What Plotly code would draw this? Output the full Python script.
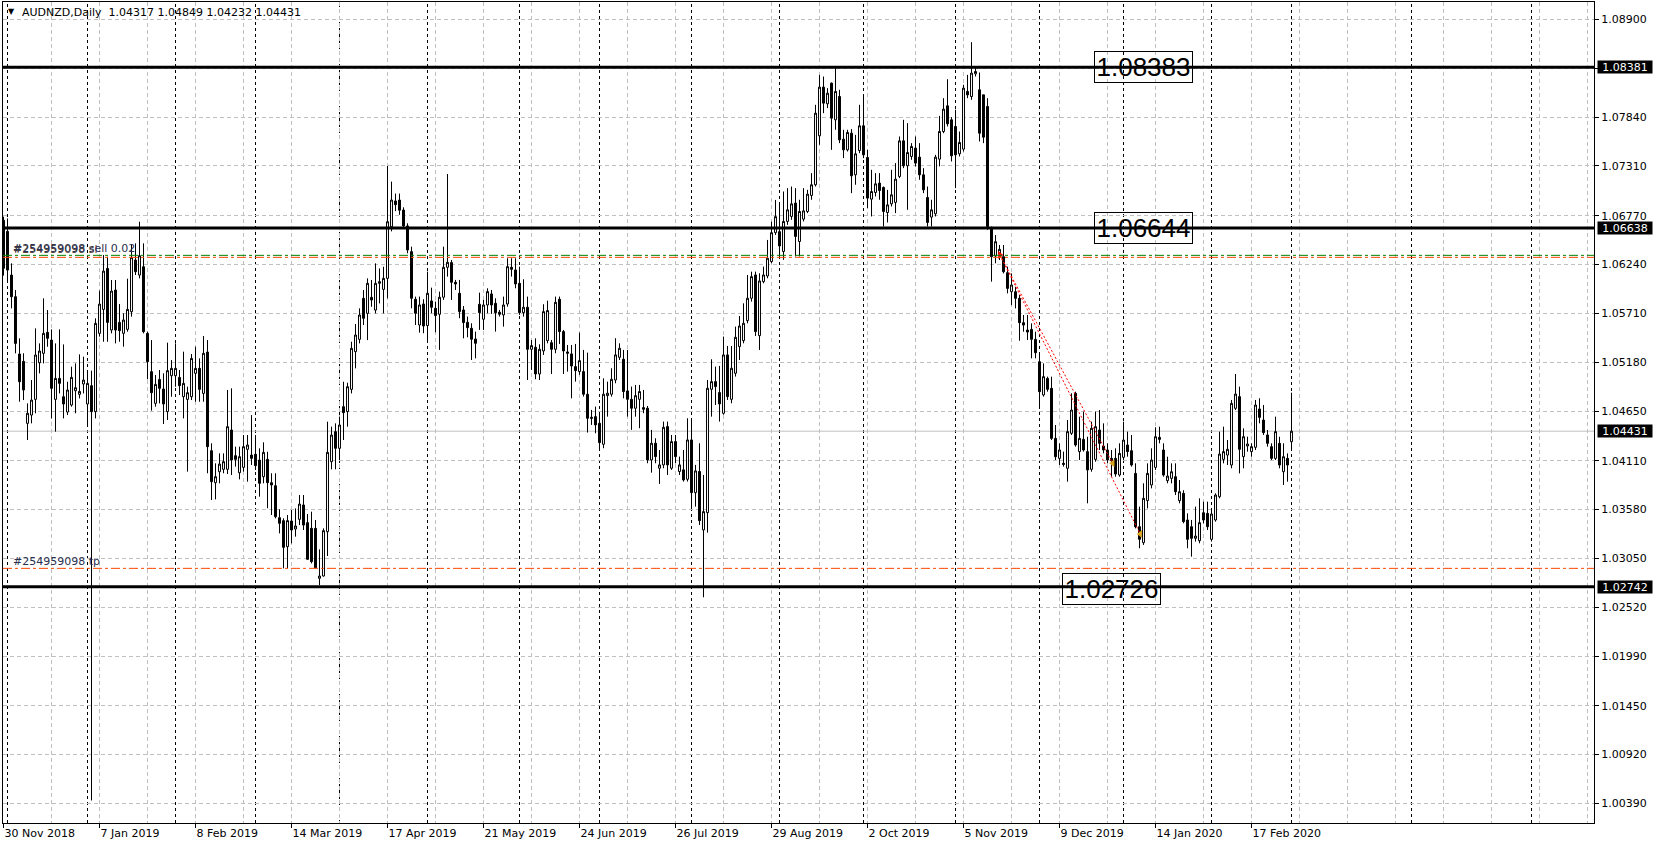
import plotly.graph_objects as go
import pandas as pd

# ---------------- data ----------------
header_symbol = "AUDNZD,Daily"
header_values = ["1.04317", "1.04849", "1.04232", "1.04431"]

first_day = "2018-11-30"
last_day = "2020-03-02"
market_holidays = ["2018-12-25", "2019-01-01", "2019-12-25", "2020-01-01"]

opens = [1.06720,1.06600,1.06126,1.05891,1.05269,1.05189,1.04516,1.04606,1.04776,1.05174,
1.05276,1.05504,1.05420,1.04776,1.05004,1.04805,1.04639,1.04715,1.04870,1.04831,
1.04943,1.04726,1.04925,1.04643,1.05493,1.05753,1.06198,1.05529,1.05963,1.05612,
1.05493,1.05536,1.05728,1.06289,1.06126,1.06216,1.05493,1.05077,1.04733,1.04993,
1.04889,1.04643,1.05033,1.05033,1.05015,1.04805,1.04776,1.04805,1.05059,1.05113,
1.04841,1.05290,1.04219,1.03872,1.03991,1.04017,1.04017,1.04444,1.04165,1.03980,
1.04038,1.04234,1.04172,1.04180,1.04118,1.03937,1.04125,1.03872,1.03839,1.03492,
1.03460,1.03177,1.03456,1.03369,1.03474,1.03630,1.03438,1.03376,1.03376,1.02834,
1.02859,1.03340,1.04100,1.04426,1.04245,1.04697,1.04643,1.04885,1.05294,1.05428,
1.05873,1.05710,1.05884,1.05746,1.06036,1.05970,1.06090,1.06650,1.06930,1.06940,
1.06832,1.06659,1.06380,1.05863,1.05584,1.05812,1.05577,1.05845,1.05765,1.05700,
1.05885,1.06210,1.06261,1.06047,1.05928,1.05747,1.05613,1.05548,1.05432,1.05809,
1.05646,1.05801,1.05921,1.05819,1.05722,1.05693,1.05812,1.06210,1.06181,1.06036,
1.05718,1.05776,1.05320,1.05342,1.05052,1.05302,1.05414,1.05392,1.05320,1.05863,
1.05512,1.05291,1.05270,1.05132,1.05078,1.05078,1.04832,1.04582,1.04589,1.04517,
1.04289,1.04817,1.04832,1.04987,1.05233,1.05212,1.04868,1.04777,1.04680,1.04777,
1.04687,1.04680,1.04119,1.04300,1.04029,1.04065,1.04481,1.04029,1.04318,1.03993,
1.04011,1.03909,1.04336,1.03764,1.03993,1.03359,1.03547,1.04886,1.04969,1.04850,
1.04625,1.05259,1.04777,1.05060,1.05349,1.05414,1.05631,1.05874,1.06127,1.05468,
1.06054,1.06116,1.06272,1.06586,1.06597,1.06382,1.06708,1.06762,1.06907,1.06490,
1.06733,1.06816,1.06990,1.07106,1.07637,1.08166,1.07985,1.08209,1.07811,1.08064,
1.07601,1.07485,1.07666,1.07214,1.07478,1.07746,1.07402,1.06950,1.07022,1.07124,
1.07077,1.06805,1.06899,1.06914,1.07196,1.07583,1.07312,1.07413,1.07504,1.07406,
1.07214,1.06968,1.06755,1.06791,1.07384,1.07684,1.07963,1.07811,1.07739,1.07442,
1.07493,1.08119,1.08064,1.08310,1.08137,1.08082,1.07956,1.06635,1.06332,1.06354,
1.06325,1.06151,1.05945,1.05945,1.05873,1.05609,1.05529,1.05536,1.05428,1.05185,
1.04824,1.05004,1.04896,1.04353,1.04136,1.04082,1.04028,1.04408,1.04842,1.04209,
1.04342,1.04209,1.04017,1.04125,1.04444,1.04270,1.04227,1.04136,1.04136,1.03955,
1.04147,1.04281,1.04219,1.03973,1.03394,1.03221,1.03677,1.03847,1.04038,1.04364,
1.04227,1.03894,1.03919,1.03937,1.03677,1.03756,1.03467,1.03394,1.03268,1.03242,
1.03546,1.03539,1.03257,1.03467,1.03720,1.04125,1.04172,1.04064,1.04679,1.04806,
1.04154,1.04270,1.04209,1.04256,1.04672,1.04552,1.04390,1.04263,1.04136,1.04299,
1.03991,1.04136,1.04317]

highs = [1.06760,1.06740,1.06253,1.05963,1.05439,1.05276,1.04733,1.04986,1.05547,1.05384,
1.05873,1.05746,1.05536,1.05384,1.05536,1.05373,1.04968,1.05131,1.05167,1.05265,
1.05240,1.05077,1.05088,1.05656,1.05956,1.06343,1.06325,1.06072,1.06072,1.05811,
1.05710,1.06086,1.06462,1.06470,1.06705,1.06470,1.05511,1.05420,1.05041,1.05095,
1.05059,1.05392,1.05203,1.05384,1.05095,1.05294,1.04914,1.05269,1.05348,1.05221,
1.05464,1.05420,1.04299,1.04082,1.04190,1.04190,1.04878,1.04896,1.04263,1.04263,
1.04389,1.04389,1.04606,1.04389,1.04245,1.04310,1.04208,1.03974,1.03974,1.03583,
1.03485,1.03521,1.03575,1.03593,1.03738,1.03738,1.03532,1.03557,1.03467,1.03148,
1.03376,1.04534,1.04480,1.04516,1.04588,1.04968,1.04957,1.05402,1.05594,1.05764,
1.05963,1.06090,1.06072,1.06253,1.06198,1.06216,1.07310,1.07140,1.07010,1.07010,
1.06861,1.06688,1.06434,1.05892,1.05892,1.05863,1.06163,1.05989,1.05838,1.05946,
1.06434,1.07223,1.06290,1.06073,1.06073,1.05790,1.05675,1.05602,1.05512,1.05935,
1.05856,1.05982,1.05964,1.05874,1.05747,1.05892,1.06308,1.06308,1.06308,1.06217,
1.06080,1.05892,1.05421,1.05439,1.05374,1.05809,1.05848,1.05421,1.05892,1.05892,
1.05530,1.05367,1.05367,1.05378,1.05501,1.05313,1.05284,1.04662,1.04698,1.04607,
1.05005,1.04969,1.05114,1.05440,1.05385,1.05313,1.05313,1.04915,1.04933,1.04933,
1.04879,1.04705,1.04445,1.04354,1.04227,1.04535,1.04535,1.04390,1.04390,1.04155,
1.04227,1.04571,1.04553,1.04065,1.04300,1.03956,1.04987,1.05212,1.05132,1.05139,
1.05458,1.05356,1.05356,1.05566,1.05682,1.05819,1.06127,1.06163,1.06163,1.06145,
1.06217,1.06507,1.06706,1.06941,1.06905,1.07033,1.07069,1.07087,1.07069,1.06943,
1.07069,1.07051,1.07232,1.07974,1.08299,1.08281,1.08155,1.08216,1.08372,1.08137,
1.07703,1.07703,1.07710,1.07648,1.07974,1.08064,1.07485,1.07268,1.07232,1.07232,
1.07087,1.07051,1.07268,1.07341,1.07630,1.07811,1.07775,1.07558,1.07630,1.07558,
1.07286,1.07087,1.06943,1.07431,1.07854,1.08046,1.08252,1.07840,1.07920,1.07684,
1.08191,1.08299,1.08654,1.08383,1.08325,1.08082,1.08046,1.06653,1.06560,1.06452,
1.06452,1.06217,1.06144,1.05999,1.05909,1.05692,1.05692,1.05601,1.05511,1.05258,
1.05167,1.05023,1.05023,1.04498,1.04299,1.04209,1.04552,1.04842,1.04860,1.04588,
1.04643,1.04371,1.04534,1.04643,1.04661,1.04516,1.04299,1.04227,1.04245,1.04299,
1.04534,1.04426,1.04390,1.04082,1.03612,1.03865,1.04082,1.04245,1.04473,1.04480,
1.04299,1.04154,1.04082,1.04082,1.03901,1.03790,1.03539,1.03467,1.03612,1.03702,
1.03666,1.03666,1.03575,1.03756,1.04426,1.04480,1.04335,1.04770,1.05052,1.04914,
1.04462,1.04371,1.04299,1.04770,1.04788,1.04715,1.04444,1.04299,1.04589,1.04371,
1.04299,1.04190,1.04849]

lows = [1.06120,1.06040,1.05764,1.05276,1.04751,1.04769,1.04335,1.04516,1.04625,1.05059,
1.05167,1.05348,1.04570,1.04426,1.04841,1.04570,1.04606,1.04697,1.04625,1.04787,
1.04841,1.04498,1.00422,1.04570,1.05457,1.05402,1.05402,1.05493,1.05384,1.05402,
1.05348,1.05511,1.05674,1.06126,1.06090,1.05493,1.04995,1.04654,1.04697,1.04733,
1.04509,1.04552,1.04805,1.04914,1.04823,1.04570,1.03992,1.04769,1.04751,1.04751,
1.04751,1.03974,1.03684,1.03691,1.03865,1.03974,1.03966,1.03955,1.04046,1.03908,
1.03992,1.03883,1.04064,1.04010,1.03720,1.03865,1.03594,1.03521,1.03485,1.03322,
1.02942,1.02942,1.03213,1.03286,1.03412,1.03358,1.03033,1.02996,1.02942,1.02761,
1.02852,1.03076,1.04017,1.04017,1.04118,1.04335,1.04480,1.04841,1.05113,1.05384,
1.05583,1.05420,1.05782,1.05710,1.05818,1.05710,1.05873,1.06600,1.06820,1.06780,
1.06633,1.06362,1.05765,1.05584,1.05501,1.05494,1.05414,1.05711,1.05505,1.05313,
1.05856,1.06109,1.05856,1.05964,1.05657,1.05439,1.05450,1.05204,1.05222,1.05530,
1.05530,1.05711,1.05704,1.05512,1.05675,1.05566,1.05783,1.06109,1.05982,1.05693,
1.05675,1.04987,1.05096,1.04995,1.04987,1.05259,1.05385,1.05052,1.05277,1.05378,
1.05052,1.05078,1.04788,1.04969,1.05042,1.04806,1.04416,1.04499,1.04408,1.04246,
1.04246,1.04589,1.04806,1.04951,1.05204,1.04788,1.04589,1.04445,1.04589,1.04463,
1.04626,1.04083,1.03981,1.04083,1.03859,1.04029,1.03956,1.04011,1.04083,1.03956,
1.03884,1.03884,1.03594,1.03612,1.03413,1.02628,1.03330,1.04589,1.04716,1.04535,
1.04610,1.04770,1.04734,1.05024,1.05204,1.05385,1.05602,1.05838,1.05465,1.05313,
1.06036,1.06091,1.06254,1.06561,1.06326,1.06291,1.06671,1.06726,1.06328,1.06328,
1.06708,1.06798,1.06943,1.07087,1.07540,1.07883,1.07938,1.07485,1.07703,1.07558,
1.07395,1.07467,1.07015,1.07106,1.07449,1.07395,1.06852,1.06762,1.06979,1.06943,
1.06653,1.06697,1.06870,1.06798,1.07178,1.07286,1.06834,1.07377,1.07305,1.07160,
1.07015,1.06653,1.06653,1.06762,1.07305,1.07666,1.07739,1.07359,1.07069,1.07413,
1.07467,1.08046,1.08028,1.08281,1.07576,1.07558,1.06617,1.06054,1.06253,1.06289,
1.06144,1.05927,1.05800,1.05764,1.05413,1.05511,1.05421,1.05222,1.05222,1.04697,
1.04806,1.04860,1.04335,1.04118,1.04064,1.04046,1.03883,1.04390,1.04263,1.04118,
1.04209,1.03648,1.03991,1.04100,1.04227,1.04190,1.04082,1.03937,1.03937,1.03937,
1.04118,1.04154,1.04046,1.03376,1.03160,1.03196,1.03593,1.03810,1.04010,1.04299,
1.03937,1.03865,1.03865,1.03738,1.03648,1.03431,1.03160,1.03069,1.03232,1.03214,
1.03431,1.03358,1.03232,1.03449,1.03702,1.04082,1.04064,1.04028,1.04661,1.03973,
1.04028,1.04209,1.04154,1.04227,1.04516,1.04390,1.04263,1.04118,1.04118,1.04028,
1.03847,1.03883,1.04232]

closes = [1.06200,1.06180,1.05891,1.05384,1.04968,1.04878,1.04625,1.04769,1.05258,1.05301,
1.05493,1.05439,1.04896,1.05004,1.04950,1.04726,1.04878,1.05015,1.04903,1.04863,
1.04986,1.04950,1.04643,1.05601,1.05811,1.06169,1.05612,1.05952,1.05529,1.05522,
1.05638,1.05753,1.06318,1.06162,1.06336,1.05511,1.05185,1.04849,1.04939,1.04896,
1.04726,1.05088,1.05113,1.05113,1.04925,1.04950,1.04849,1.05221,1.05113,1.04885,
1.05276,1.04263,1.03883,1.03937,1.04074,1.04100,1.04480,1.04118,1.04125,1.04154,
1.04263,1.04281,1.04136,1.04057,1.03865,1.04201,1.03872,1.03847,1.03503,1.03431,
1.03170,1.03460,1.03358,1.03402,1.03640,1.03412,1.03040,1.03015,1.02949,1.02859,
1.03351,1.04201,1.04389,1.04245,1.04498,1.04632,1.04914,1.05330,1.05475,1.05692,
1.05656,1.06036,1.05855,1.06036,1.06054,1.06090,1.06705,1.06940,1.06890,1.06830,
1.06659,1.06398,1.05874,1.05711,1.05801,1.05573,1.05928,1.05776,1.05686,1.05885,
1.06210,1.06264,1.06047,1.06029,1.05729,1.05610,1.05555,1.05429,1.05385,1.05718,
1.05801,1.05946,1.05801,1.05718,1.05700,1.05801,1.06217,1.06188,1.06029,1.05718,
1.05776,1.05320,1.05360,1.05052,1.05320,1.05729,1.05740,1.05320,1.05830,1.05512,
1.05302,1.05277,1.05139,1.05089,1.05197,1.04832,1.04571,1.04571,1.04499,1.04307,
1.04832,1.04843,1.04994,1.05259,1.05331,1.04861,1.04777,1.04680,1.04817,1.04861,
1.04669,1.04119,1.04300,1.04155,1.04065,1.04473,1.04065,1.04318,1.04155,1.04065,
1.03902,1.04336,1.03764,1.04000,1.03460,1.03558,1.04897,1.04969,1.04915,1.04727,
1.05259,1.04806,1.05114,1.05450,1.05573,1.05602,1.05874,1.06109,1.05512,1.06062,
1.06127,1.06308,1.06586,1.06760,1.06442,1.06708,1.06834,1.06899,1.06545,1.06816,
1.06823,1.07004,1.07106,1.07883,1.08166,1.07992,1.08100,1.07829,1.08119,1.07594,
1.07485,1.07674,1.07203,1.07442,1.07746,1.07431,1.06961,1.07033,1.07116,1.07044,
1.06816,1.06888,1.06997,1.07167,1.07583,1.07312,1.07456,1.07522,1.07341,1.07214,
1.07051,1.06697,1.06834,1.07406,1.07684,1.07927,1.07768,1.07420,1.07431,1.07565,
1.08155,1.08082,1.08318,1.08336,1.07666,1.07623,1.06653,1.06325,1.06488,1.06405,
1.06162,1.05981,1.06018,1.05873,1.05609,1.05583,1.05507,1.05428,1.05283,1.04860,
1.05023,1.04885,1.04353,1.04154,1.04227,1.04071,1.04426,1.04661,1.04281,1.04353,
1.04227,1.04010,1.04462,1.04480,1.04299,1.04227,1.04118,1.04111,1.03966,1.04190,
1.04335,1.04209,1.04064,1.03394,1.03257,1.03702,1.03973,1.04118,1.04371,1.04342,
1.03955,1.03944,1.03991,1.03774,1.03774,1.03449,1.03257,1.03268,1.03293,1.03438,
1.03467,1.03394,1.03532,1.03738,1.04183,1.04209,1.04234,1.04733,1.04834,1.04234,
1.04371,1.04292,1.04263,1.04715,1.04581,1.04415,1.04299,1.04136,1.04426,1.04064,
1.04154,1.04064,1.04431]

x_tick_labels = ["30 Nov 2018", "7 Jan 2019", "8 Feb 2019", "14 Mar 2019", "17 Apr 2019",
                 "21 May 2019", "24 Jun 2019", "26 Jul 2019", "29 Aug 2019", "2 Oct 2019",
                 "5 Nov 2019", "9 Dec 2019", "14 Jan 2020", "17 Feb 2020"]
y_tick_values = [1.0890, 1.0837, 1.0784, 1.0731, 1.0677, 1.0624, 1.0571, 1.0518, 1.0465,
                 1.0411, 1.0358, 1.0305, 1.0252, 1.0199, 1.0145, 1.0092, 1.0039]
y_tick_labels = ["1.08900", "", "1.07840", "1.07310", "1.06770", "1.06240", "1.05710",
                 "1.05180", "1.04650", "1.04110", "1.03580", "1.03050", "1.02520",
                 "1.01990", "1.01450", "1.00920", "1.00390"]

level_prices = [1.08381, 1.06638, 1.02742]
level_axis_texts = ["1.08381", "1.06638", "1.02742"]
level_box_texts = ["1.08383", "1.06644", "1.02726"]
bid_price = 1.04431
bid_text = "1.04431"

order_ticket = "#254959098"
order_open_price = 1.06340
order_sl_price = 1.06318
order_tp_price = 1.02942
trade_open_bar = 249.1
trade_open_price = 1.06343
trade_close_bars = [277.3, 284.2]
trade_close_prices = [1.04082, 1.03315]

# ---------------- geometry / style ----------------
W, H = 1658, 846
ML, MR, MT, MB = 3, 64, 2, 23
PW, PH = W - ML - MR, H - MT - MB
BAR_PX = 4.0
REF_PRICE, REF_PY, PX_PER_UNIT = 1.089, 19.5, 9212.0
X0 = -0.125
X1 = X0 + PW / BAR_PX
Y1 = REF_PRICE + (REF_PY - MT) / PX_PER_UNIT
Y0 = REF_PRICE - (H - MB - REF_PY) / PX_PER_UNIT

def paper_x(px):
    return (px - ML) / PW

def paper_y(py):
    return 1 - (py - MT) / PH

FONT = "DejaVu Sans"
GRID = "#c0c0c0"

# dates / positions
hol = set(pd.to_datetime(market_holidays))
dates = [d for d in pd.bdate_range(first_day, last_day) if d not in hol]
n = min(len(dates), len(opens))
bars = list(range(n))
highs_c = [max(h, o, c) for h, o, c in zip(highs, opens, closes)]
lows_c = [min(l, o, c) for l, o, c in zip(lows, opens, closes)]

date_index = {d: i for i, d in enumerate(dates)}
tick_pos = [date_index[pd.to_datetime(t, format="%d %b %Y")] for t in x_tick_labels]
minor_pos = [k for k in range(0, int(X1) + 1, 12) if k not in tick_pos]

# month separators (future bars advance by calendar day, as on the terminal)
sep_pos = [i for i in range(1, len(dates)) if dates[i].month != dates[i - 1].month]
m = (dates[-1] + pd.offsets.MonthBegin(1))
while True:
    pos = (len(dates) - 1) + (m - dates[-1]).days
    if pos > X1:
        break
    sep_pos.append(pos)
    m = m + pd.offsets.MonthBegin(1)

fig = go.Figure()

fig.add_trace(go.Candlestick(
    x=bars, open=opens[:n], high=highs_c[:n], low=lows_c[:n], close=closes[:n],
    increasing=dict(line=dict(color="black", width=1), fillcolor="white"),
    decreasing=dict(line=dict(color="black", width=1), fillcolor="black"),
    whiskerwidth=0, showlegend=False, hoverinfo="skip"))

# closed trade lines
for cb, cp in zip(trade_close_bars, trade_close_prices):
    fig.add_trace(go.Scatter(x=[trade_open_bar, cb], y=[trade_open_price, cp], mode="lines",
                             line=dict(color="red", width=1, dash="2px,2px"),
                             showlegend=False, hoverinfo="skip"))
fig.add_trace(go.Scatter(x=trade_close_bars, y=trade_close_prices, mode="markers",
                         marker=dict(symbol="triangle-left", size=7, color="#DAA520"),
                         showlegend=False, hoverinfo="skip"))
fig.add_trace(go.Scatter(x=[trade_open_bar], y=[trade_open_price], mode="markers",
                         marker=dict(symbol="triangle-right", size=7, color="red"),
                         showlegend=False, hoverinfo="skip"))

shapes = []
for s in sep_pos:
    shapes.append(dict(type="line", xref="x", yref="paper", x0=s, x1=s, y0=0, y1=1,
                       line=dict(color="black", width=1, dash="3px,3px"), layer="below"))
shapes.append(dict(type="line", xref="paper", yref="y", x0=0, x1=1, y0=bid_price, y1=bid_price,
                   line=dict(color=GRID, width=1), layer="below"))
for lp in level_prices:
    shapes.append(dict(type="line", xref="paper", yref="y", x0=0, x1=1, y0=lp, y1=lp,
                       line=dict(color="black", width=3), layer="above"))
shapes.append(dict(type="line", xref="paper", yref="y", x0=0, x1=1, y0=order_open_price,
                   y1=order_open_price, line=dict(color="#008000", width=1, dash="dashdot"),
                   layer="above"))
for sp in [order_sl_price, order_tp_price]:
    shapes.append(dict(type="line", xref="paper", yref="y", x0=0, x1=1, y0=sp, y1=sp,
                       line=dict(color="#FF4500", width=1, dash="dashdot"), layer="above"))

ann = []
ann.append(dict(xref="paper", yref="paper", x=paper_x(11), y=paper_y(12), text="▼",
                showarrow=False, font=dict(family=FONT, size=8, color="black"),
                xanchor="center", yanchor="middle"))
ann.append(dict(xref="paper", yref="paper", x=paper_x(20), y=paper_y(12.5),
                text=header_symbol + "  " + " ".join(header_values), showarrow=False,
                font=dict(family=FONT, size=11, color="black"), xanchor="left", yanchor="middle"))
# the terminal draws the SL tag and the order tag on top of each other
ann.append(dict(xref="paper", yref="paper", x=paper_x(11), y=paper_y(250),
                text=order_ticket + " sl", showarrow=False,
                font=dict(family=FONT, size=11, color="#5a4a3a"), xanchor="left", yanchor="middle"))
ann.append(dict(xref="paper", yref="paper", x=paper_x(11), y=paper_y(248),
                text=order_ticket + " sell 0.02", showarrow=False,
                font=dict(family=FONT, size=11, color="#2a3050"), xanchor="left", yanchor="middle"))
ann.append(dict(xref="paper", yref="paper", x=paper_x(11), y=paper_y(561),
                text=order_ticket + " tp", showarrow=False,
                font=dict(family=FONT, size=11, color="#2a3050"), xanchor="left", yanchor="middle"))
# big level boxes
box_bars = [285.0, 285.0, 276.9]
box_prices = [level_prices[0], level_prices[1], 1.02718]
for bb, bp, bt in zip(box_bars, box_prices, level_box_texts):
    ann.append(dict(xref="x", yref="y", x=bb, y=bp, text=bt, showarrow=False,
                    font=dict(family="Liberation Sans", size=26, color="black"),
                    bordercolor="black", borderwidth=1, borderpad=0, width=97, height=30,
                    align="center", xanchor="center", yanchor="middle"))
# right axis price tags
for lp, lt in zip(level_prices + [bid_price], level_axis_texts + [bid_text]):
    ann.append(dict(xref="paper", yref="y", x=1, y=lp, text=lt, showarrow=False,
                    xanchor="left", yanchor="middle", xshift=3, bgcolor="black",
                    font=dict(family=FONT, size=11, color="white"), borderpad=0,
                    width=54, height=12, align="center"))

fig.update_layout(
    width=W, height=H, margin=dict(l=ML, r=MR, t=MT, b=MB, autoexpand=False),
    paper_bgcolor="white", plot_bgcolor="white", showlegend=False,
    boxgap=0.3, boxgroupgap=0.3,
    shapes=shapes, annotations=ann,
    xaxis=dict(range=[X0, X1], rangeslider=dict(visible=False), tickmode="array",
               tickvals=tick_pos, ticktext=x_tick_labels, ticks="outside", ticklen=4,
               tickcolor="black", ticklabelposition="outside right",
               tickfont=dict(family=FONT, size=11, color="black"),
               showgrid=True, gridcolor=GRID, griddash="4px,3px", gridwidth=1,
               minor=dict(tickvals=minor_pos, showgrid=True, gridcolor=GRID,
                          griddash="4px,3px", ticklen=0),
               showline=True, linecolor="black", linewidth=1, mirror=True, zeroline=False,
               fixedrange=True),
    yaxis=dict(range=[Y0, Y1], side="right", tickmode="array", tickvals=y_tick_values,
               ticktext=y_tick_labels, ticks="outside", ticklen=4, tickcolor="black",
               tickfont=dict(family=FONT, size=11, color="black"),
               showgrid=True, gridcolor=GRID, griddash="4px,3px", gridwidth=1,
               showline=True, linecolor="black", linewidth=1, mirror=True, zeroline=False,
               fixedrange=True),
)

fig.write_html("out.html", config={"displayModeBar": False},
               post_script="document.body.style.margin='0';document.body.style.overflow='hidden';")
